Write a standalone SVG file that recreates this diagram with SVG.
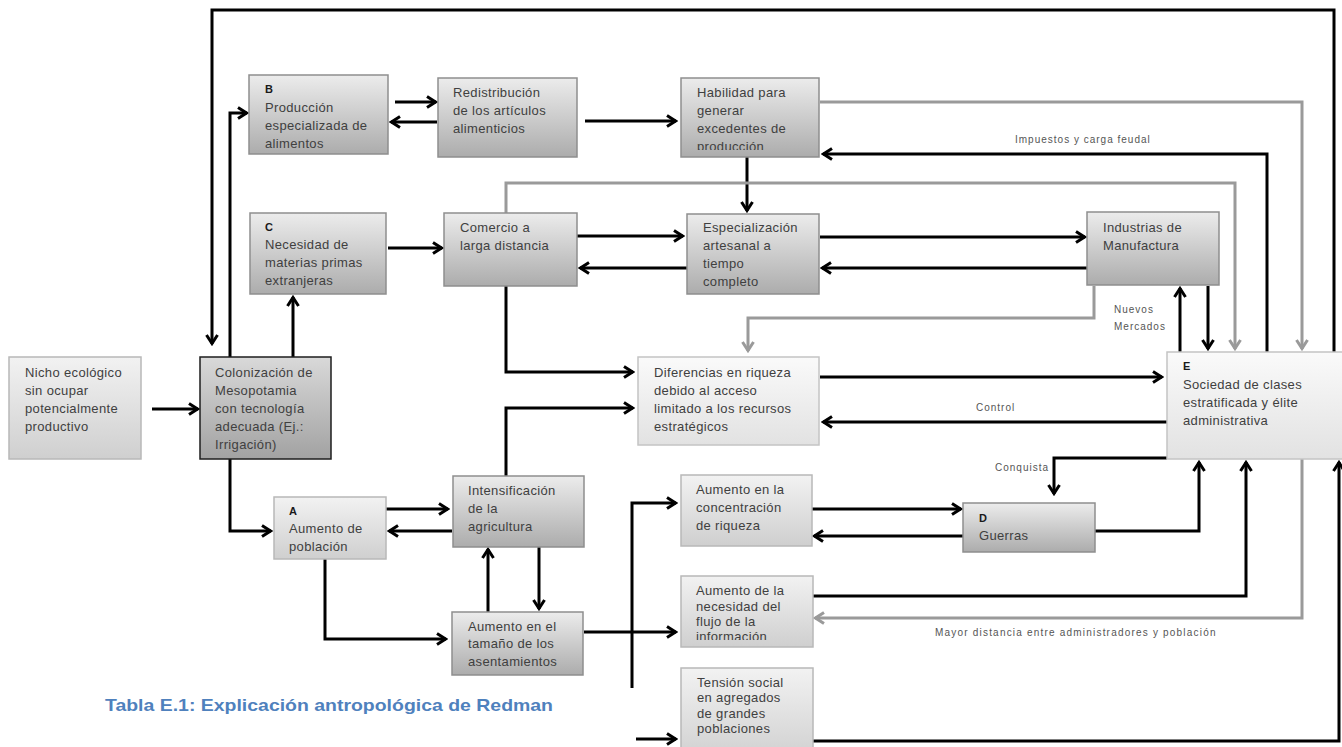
<svg xmlns="http://www.w3.org/2000/svg" width="1342" height="747" viewBox="0 0 1342 747">
<style>
.bx{stroke:#8e8e8e;stroke-width:1.5}
.dk{fill:url(#gDark)}
.lt{fill:url(#gLight);stroke:#b8b8b8;stroke-width:1.5}
.vl{fill:url(#gVL);stroke:#c4c4c4;stroke-width:1.5}
.col{fill:url(#gCol);stroke:#1e1e1e;stroke-width:1.5}
.t{font-family:"Liberation Sans",Arial,sans-serif;font-size:13px;letter-spacing:0.35px;fill:#404040}
.k{font-family:"Liberation Sans",Arial,sans-serif;font-size:11px;font-weight:bold;fill:#1a1a1a}
.lb{font-family:"Liberation Sans",Arial,sans-serif;font-size:10px;letter-spacing:1px;fill:#555}
.c{fill:none;stroke:#000;stroke-width:3;marker-end:url(#ah)}
.g{fill:none;stroke:#9a9a9a;stroke-width:3;marker-end:url(#ahg)}
.cap{font-family:"Liberation Sans",Arial,sans-serif;font-size:17px;font-weight:bold;fill:#4f81bd}
</style>
<defs>
<linearGradient id="gDark" x1="0" y1="0" x2="0" y2="1"><stop offset="0" stop-color="#ececec"/><stop offset="1" stop-color="#acacac"/></linearGradient>
<linearGradient id="gCol" x1="0" y1="0" x2="0" y2="1"><stop offset="0" stop-color="#d9d9d9"/><stop offset="1" stop-color="#a2a2a2"/></linearGradient>
<linearGradient id="gLight" x1="0" y1="0" x2="0" y2="1"><stop offset="0" stop-color="#f2f2f2"/><stop offset="1" stop-color="#cfcfcf"/></linearGradient>
<linearGradient id="gVL" x1="0" y1="0" x2="0" y2="1"><stop offset="0" stop-color="#fafafa"/><stop offset="1" stop-color="#e2e2e2"/></linearGradient>
<marker id="ah" viewBox="0 0 14 14" refX="12" refY="7" markerWidth="14" markerHeight="14" markerUnits="userSpaceOnUse" orient="auto"><path d="M3,1.5 L11.5,7 L3,12.5" fill="none" stroke="#000" stroke-width="3"/></marker>
<marker id="ahg" viewBox="0 0 14 14" refX="12" refY="7" markerWidth="14" markerHeight="14" markerUnits="userSpaceOnUse" orient="auto"><path d="M3,1.5 L11.5,7 L3,12.5" fill="none" stroke="#9a9a9a" stroke-width="3"/></marker>
<clipPath id="clipHab"><rect x="681" y="78" width="138" height="72"/></clipPath>
<clipPath id="clipNec"><rect x="681" y="576" width="132" height="64"/></clipPath>
</defs>
<rect width="1342" height="747" fill="#fff"/>

<g id="connectors">
<path class="c" d="M152,409 H198"/>
<path class="c" d="M230,459 V531 H271"/>
<path class="c" d="M230,357 V113 H247"/>
<path class="c" d="M1334,352 V10 H212 V344"/>
<path class="c" d="M293,357 V297"/>
<path class="c" d="M395,102 H436"/>
<path class="c" d="M437,122 H391"/>
<path class="c" d="M585,121 H676"/>
<path class="c" d="M747,157 V211"/>
<path class="g" d="M820,102 H1302 V349"/>
<path class="c" d="M1267,352 V154 H823"/>
<path class="c" d="M388,248 H442"/>
<path class="g" d="M506,213 V183 H1235 V349"/>
<path class="c" d="M577,236 H683"/>
<path class="c" d="M687,268 H580"/>
<path class="c" d="M820,237 H1085"/>
<path class="c" d="M1087,268 H822"/>
<path class="g" d="M1094,286 V318 H748 V351"/>
<path class="c" d="M1180,352 V288"/>
<path class="c" d="M1208,286 V349"/>
<path class="c" d="M506,286 V372 H633"/>
<path class="c" d="M506,476 V408 H633"/>
<path class="c" d="M820,377 H1162"/>
<path class="c" d="M1167,422 H823"/>
<path class="c" d="M1167,458 H1054 V494"/>
<path class="c" d="M386,509 H448"/>
<path class="c" d="M452,531 H389"/>
<path class="c" d="M325,559 V639 H446"/>
<path class="c" d="M488,612 V549"/>
<path class="c" d="M539,547 V609"/>
<path class="c" d="M632,688 V503 H676"/>
<path class="c" d="M584,632 H676"/>
<path class="c" d="M636,739 H676"/>
<path class="c" d="M812,509 H961"/>
<path class="c" d="M963,536 H814"/>
<path class="c" d="M1095,531 H1199 V462"/>
<path class="c" d="M813,596 H1246 V462"/>
<path class="g" d="M1302,459 V618 H815"/>
<path class="c" d="M813,741 H1339 V462"/>
<text class="lb" x="1015" y="143">Impuestos y carga feudal</text>
<text class="lb" x="1114" y="313">Nuevos</text>
<text class="lb" x="1114" y="330">Mercados</text>
<text class="lb" x="976" y="411">Control</text>
<text class="lb" x="995" y="471">Conquista</text>
<text class="lb" x="935" y="636" style="letter-spacing:1.2px">Mayor distancia entre administradores y población</text>
</g>

<g id="nicho">
<rect class="lt" x="9" y="357" width="132" height="102"/>
<text class="t" x="25" y="377">Nicho ecológico</text>
<text class="t" x="25" y="395">sin ocupar</text>
<text class="t" x="25" y="413">potencialmente</text>
<text class="t" x="25" y="431">productivo</text>
</g>

<g id="colonizacion">
<rect class="col" x="200" y="357" width="131" height="102"/>
<text class="t" x="215" y="377">Colonización de</text>
<text class="t" x="215" y="395">Mesopotamia</text>
<text class="t" x="215" y="413">con tecnología</text>
<text class="t" x="215" y="431">adecuada (Ej.:</text>
<text class="t" x="215" y="449">Irrigación)</text>
</g>

<g id="nodeB">
<rect class="bx dk" x="249" y="75" width="139" height="79"/>
<text class="k" x="265" y="93">B</text>
<text class="t" x="265" y="112">Producción</text>
<text class="t" x="265" y="130">especializada de</text>
<text class="t" x="265" y="148">alimentos</text>
</g>

<g id="redistribucion">
<rect class="bx dk" x="438" y="78" width="139" height="79"/>
<text class="t" x="453" y="97">Redistribución</text>
<text class="t" x="453" y="115">de los artículos</text>
<text class="t" x="453" y="133">alimenticios</text>
</g>

<g id="habilidad">
<rect class="bx dk" x="681" y="78" width="138" height="79"/>
<g clip-path="url(#clipHab)">
<text class="t" x="697" y="97">Habilidad para</text>
<text class="t" x="697" y="115">generar</text>
<text class="t" x="697" y="133">excedentes de</text>
<text class="t" x="697" y="151">producción</text>
</g>
</g>

<g id="nodeC">
<rect class="bx dk" x="250" y="213" width="136" height="81"/>
<text class="k" x="265" y="231">C</text>
<text class="t" x="265" y="249">Necesidad de</text>
<text class="t" x="265" y="267">materias primas</text>
<text class="t" x="265" y="285">extranjeras</text>
</g>

<g id="comercio">
<rect class="bx dk" x="444" y="213" width="133" height="73"/>
<text class="t" x="460" y="232">Comercio a</text>
<text class="t" x="460" y="250">larga distancia</text>
</g>

<g id="especializacion">
<rect class="bx dk" x="687" y="214" width="132" height="80"/>
<text class="t" x="703" y="232">Especialización</text>
<text class="t" x="703" y="250">artesanal a</text>
<text class="t" x="703" y="268">tiempo</text>
<text class="t" x="703" y="286">completo</text>
</g>

<g id="industrias">
<rect class="bx dk" x="1087" y="212" width="132" height="73"/>
<text class="t" x="1103" y="232">Industrias de</text>
<text class="t" x="1103" y="250">Manufactura</text>
</g>

<g id="diferencias">
<rect class="vl" x="638" y="357" width="181" height="88"/>
<text class="t" x="654" y="377">Diferencias en riqueza</text>
<text class="t" x="654" y="395">debido al acceso</text>
<text class="t" x="654" y="413">limitado a los recursos</text>
<text class="t" x="654" y="431">estratégicos</text>
</g>

<g id="nodeE">
<rect class="vl" x="1167" y="352" width="190" height="107"/>
<text class="k" x="1183" y="370">E</text>
<text class="t" x="1183" y="389">Sociedad de clases</text>
<text class="t" x="1183" y="407">estratificada y élite</text>
<text class="t" x="1183" y="425">administrativa</text>
</g>

<g id="nodeA">
<rect class="lt" x="274" y="497" width="112" height="62"/>
<text class="k" x="289" y="515">A</text>
<text class="t" x="289" y="533">Aumento de</text>
<text class="t" x="289" y="551">población</text>
</g>

<g id="intensificacion">
<rect class="bx dk" x="453" y="476" width="131" height="71"/>
<text class="t" x="468" y="495">Intensificación</text>
<text class="t" x="468" y="513">de la</text>
<text class="t" x="468" y="531">agricultura</text>
</g>

<g id="concentracion">
<rect class="lt" x="681" y="475" width="131" height="71"/>
<text class="t" x="696" y="494">Aumento en la</text>
<text class="t" x="696" y="512">concentración</text>
<text class="t" x="696" y="530">de riqueza</text>
</g>

<g id="nodeD">
<rect class="bx dk" x="963" y="503" width="132" height="49"/>
<text class="k" x="979" y="522">D</text>
<text class="t" x="979" y="540">Guerras</text>
</g>

<g id="tamano">
<rect class="bx dk" x="452" y="612" width="131" height="63"/>
<text class="t" x="468" y="631">Aumento en el</text>
<text class="t" x="468" y="648">tamaño de los</text>
<text class="t" x="468" y="666">asentamientos</text>
</g>

<g id="necesidad">
<rect class="lt" x="681" y="576" width="132" height="71"/>
<g clip-path="url(#clipNec)">
<text class="t" x="696" y="595">Aumento de la</text>
<text class="t" x="696" y="611">necesidad del</text>
<text class="t" x="696" y="626">flujo de la</text>
<text class="t" x="696" y="641">información</text>
</g>
</g>

<g id="tension">
<rect class="lt" x="681" y="668" width="132" height="95"/>
<text class="t" x="697" y="687">Tensión social</text>
<text class="t" x="697" y="702">en agregados</text>
<text class="t" x="697" y="718">de grandes</text>
<text class="t" x="697" y="733">poblaciones</text>
</g>

<text class="cap" x="105" y="711" textLength="448" lengthAdjust="spacingAndGlyphs">Tabla E.1: Explicación antropológica de Redman</text>
</svg>
